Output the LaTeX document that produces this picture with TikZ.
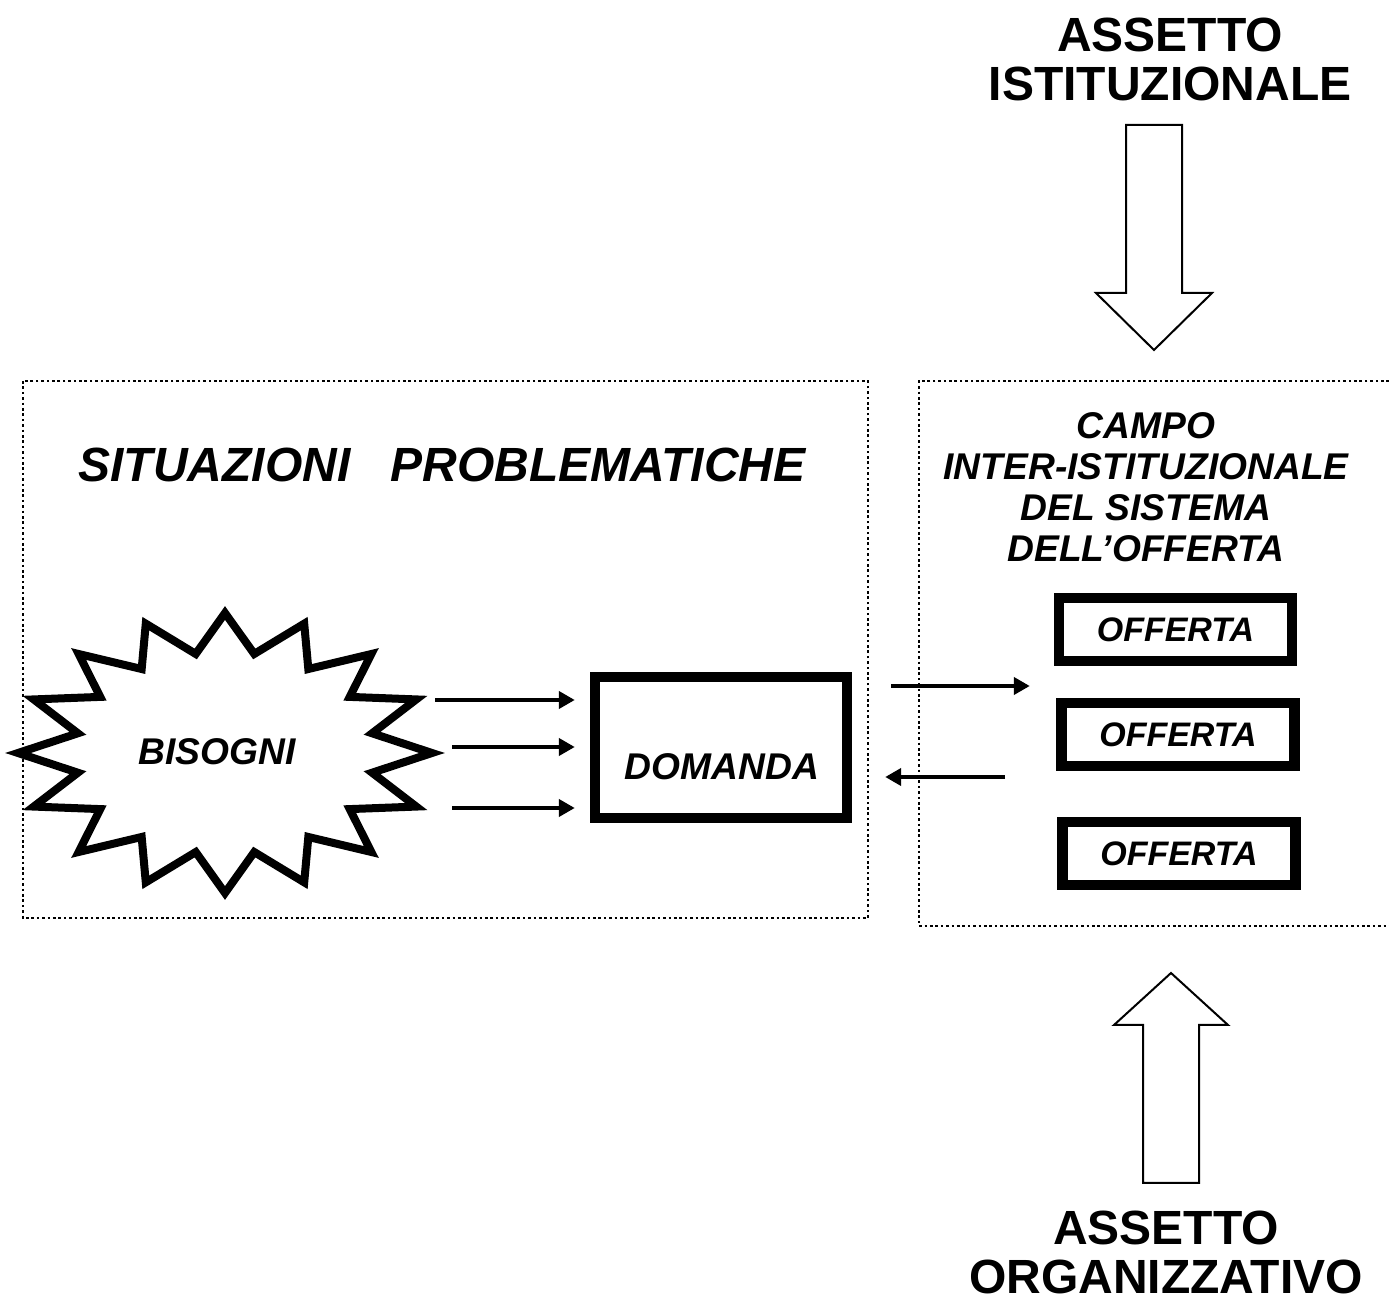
\documentclass[tikz,border=0pt]{standalone}
\usepackage{fontspec}
\setmainfont{Liberation Sans}
\usetikzlibrary{arrows.meta}
\begin{document}
\begin{tikzpicture}[x=0.5pt,y=-0.5pt,
  dotbox/.style={line width=1.3pt,dash pattern=on 1.3pt off 1.4pt},
  thickbox/.style={draw,line width=5.2pt,fill=white,inner sep=0pt},
  lbl/.style={inner sep=0pt,font=\fontsize{18.6pt}{20.5pt}\selectfont\bfseries\itshape,align=center},
  offlbl/.style={inner sep=0pt,font=\fontsize{17pt}{20pt}\selectfont\bfseries\itshape},
  bigtitle/.style={inner sep=0pt,font=\fontsize{24pt}{24.5pt}\selectfont\bfseries,align=center},
  conn/.style={line width=2.2pt,-{Triangle[length=8pt,width=8.5pt]}},
  hollow/.style={draw,line width=1pt,fill=white,line join=miter}]
\useasboundingbox (0,0) rectangle (1389,1304);

% starburst
\begin{scope}[shift={(225,753)}]
\draw[line width=4pt,fill=white,line join=miter,miter limit=10]
  (90:207 and 140)
  \foreach \k in {0,...,15}{ -- ({101.25+\k*22.5}:150 and 101) -- ({112.5+\k*22.5}:207 and 140)} -- cycle;
\end{scope}
\node[lbl] (bis) at (217,752) {BISOGNI};

% dotted frames
\draw[dotbox] (23,381) rectangle (868,918);
\draw[dotbox] (1389,381) -- (919,381) -- (919,926) -- (1389,926);

\node[inner sep=0pt,font=\fontsize{24pt}{25pt}\selectfont\bfseries\itshape] (sit) at (442,465) {SITUAZIONI\ \ \ PROBLEMATICHE};
\node[lbl] (campo) at (1146,487) {CAMPO\\INTER-ISTITUZIONALE\\DEL SISTEMA\\DELL’OFFERTA};

% domanda
\node[thickbox,minimum width=126pt,minimum height=70.5pt] (dom) at (721,747.5) {};
\node[lbl] (domt) at (722,767) {DOMANDA};

% offerta boxes
\node[thickbox,minimum width=116.5pt,minimum height=31.5pt] (o1) at (1175.5,629.5) {};
\node[offlbl] at (o1) {OFFERTA};
\node[thickbox,minimum width=116.5pt,minimum height=31.5pt] (o2) at (1178,734.5) {};
\node[offlbl] at (o2) {OFFERTA};
\node[thickbox,minimum width=116.5pt,minimum height=31.5pt] (o3) at (1179,853.5) {};
\node[offlbl] at (o3) {OFFERTA};

% arrows bisogni -> domanda
\coordinate (a1) at (435,700);
\coordinate (a2) at (452,747);
\coordinate (a3) at (452,808);
\draw[conn,shorten >=7.5pt] (a1) -- (a1 -| dom.west);
\draw[conn,shorten >=7.5pt] (a2) -- (a2 -| dom.west);
\draw[conn,shorten >=7.5pt] (a3) -- (a3 -| dom.west);

% arrows domanda <-> offerta
\coordinate (r1) at (891,686);
\coordinate (r2) at (1005,777);
\draw[conn,shorten >=12pt] (r1) -- (r1 -| o1.west);
\draw[conn,shorten >=16.5pt] (r2) -- (r2 -| dom.east);

% big hollow arrows
\draw[hollow] (1126,125) -- (1182,125) -- (1182,293) -- (1212,293) -- (1154,350) -- (1096,293) -- (1126,293) -- cycle;
\draw[hollow] (1143,1183) -- (1199,1183) -- (1199,1025) -- (1228,1025) -- (1171,973) -- (1114,1025) -- (1143,1025) -- cycle;

\node[bigtitle] (ist) at (1170,59.5) {ASSETTO\\ISTITUZIONALE};
\node[bigtitle] (org) at (1166,1252) {ASSETTO\\ORGANIZZATIVO};
\end{tikzpicture}
\end{document}
